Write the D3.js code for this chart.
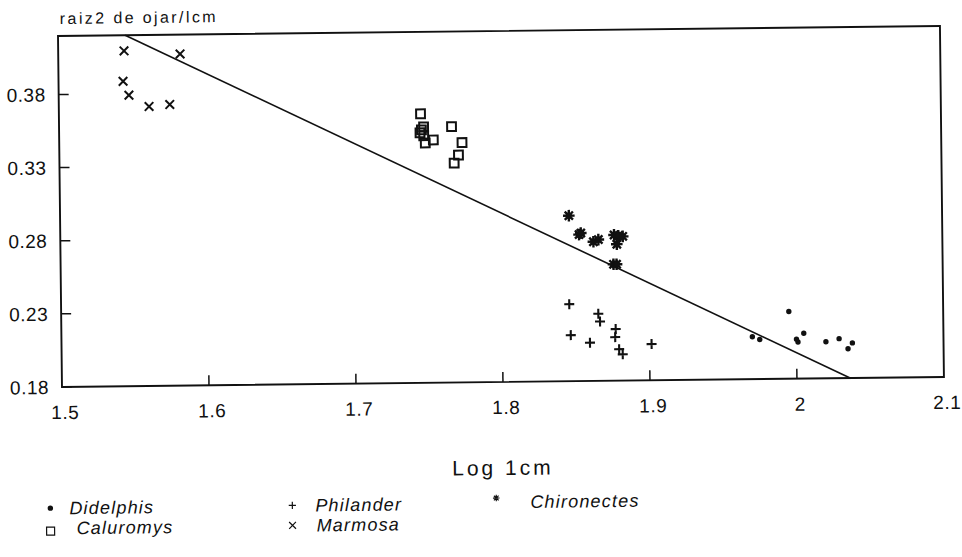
<!DOCTYPE html>
<html lang="es">
<head>
<meta charset="utf-8">
<script src="https://d3js.org/d3.v7.min.js"></script>
<title>raiz2 de ojar / lcm</title>
<style>
  body { margin: 0; background: #fff; }
  text { font-family: "Liberation Sans", Arial, sans-serif; fill: #111; }
</style>
</head>
<body>
<script>
// values
var didelphisX = [1.970, 1.975, 1.995, 2.000, 2.001, 2.005, 2.020, 2.029, 2.035, 2.038];
var didelphisY = [0.209, 0.207, 0.226, 0.207, 0.205, 0.211, 0.205, 0.207, 0.200, 0.204];

var caluromysX = [1.746, 1.748, 1.7455, 1.748, 1.749, 1.7545, 1.767, 1.774, 1.7715, 1.7685, 1.7465];
var caluromysY = [0.364, 0.355, 0.351, 0.349, 0.344, 0.346, 0.355, 0.344, 0.3355, 0.330, 0.353];

var philanderX = [1.8457, 1.8654, 1.8665, 1.8465, 1.8595, 1.8771, 1.8767, 1.8793, 1.8817, 1.9014];
var philanderY = [0.2327, 0.2259, 0.2206, 0.2115, 0.2062, 0.2153, 0.2098, 0.2015, 0.1980, 0.2048];

var marmosaX = [1.5448, 1.5829, 1.5439, 1.5478, 1.5614, 1.5755];
var marmosaY = [0.4093, 0.4068, 0.3885, 0.3790, 0.3711, 0.3723];

var chironectesX = [1.8461, 1.8529, 1.8541, 1.8626, 1.8660, 1.8767, 1.8826, 1.8785, 1.8761, 1.8782, 1.8796];
var chironectesY = [0.2932, 0.2802, 0.2812, 0.2752, 0.2766, 0.2797, 0.2786, 0.2733, 0.2596, 0.2596, 0.2791];

// fitted line  y = a + b x
var lineIntercept = 1.1763;
var lineSlope = -0.4893;

var xTicks = [1.5, 1.6, 1.7, 1.8, 1.9, 2.0, 2.1];
var yTicks = [0.18, 0.23, 0.28, 0.33, 0.38];
var xDomain = [1.5, 2.1];
var yDomain = [0.18, 0.42];

var speciesNames = ["Didelphis", "Caluromys", "Philander", "Marmosa", "Chironectes"];
var speciesKinds = ["dot", "square", "plus", "times", "asterisk"];

var yTitle = "raiz2 de ojar/lcm";
var xTitle = "Log 1cm";

var width = 962, height = 557;
var plotLeft = 60, plotRight = 942, plotTop = 31, plotBottom = 382;

var svg = d3.select("body").append("svg")
    .attr("width", width)
    .attr("height", height);

// the scan is a little tilted
var g = svg.append("g").attr("transform", "rotate(-0.65 500 210)");

var xScale = d3.scaleLinear().domain(xDomain).range([plotLeft, plotRight]);
var yScale = d3.scaleLinear().domain(yDomain).range([plotBottom, plotTop]);

// draws one marker of a given kind into a selection
function drawMarker(sel, kind, s, sw) {
  if (kind == "dot") {
    sel.append("circle").attr("r", s).attr("fill", "#111");
  } else if (kind == "square") {
    sel.append("rect").attr("x", -s).attr("y", -s).attr("width", 2 * s).attr("height", 2 * s)
      .attr("fill", "none").attr("stroke", "#111").attr("stroke-width", sw);
  } else if (kind == "plus") {
    sel.append("path").attr("d", "M" + (-s) + ",0H" + s + "M0," + (-s) + "V" + s)
      .attr("stroke", "#111").attr("stroke-width", sw);
  } else if (kind == "times") {
    sel.append("path").attr("d", "M" + (-s) + "," + (-s) + "L" + s + "," + s + "M" + (-s) + "," + s + "L" + s + "," + (-s))
      .attr("stroke", "#111").attr("stroke-width", sw);
  } else if (kind == "asterisk") {
    var d = "";
    [0, 45, 90, 135].forEach(function (a) {
      var r = a * Math.PI / 180;
      var dx = s * Math.cos(r), dy = s * Math.sin(r);
      d += "M" + (-dx) + "," + (-dy) + "L" + dx + "," + dy;
    });
    sel.append("path").attr("d", d).attr("stroke", "#111").attr("stroke-width", sw);
    if (sw > 1.5) sel.append("circle").attr("r", s * 0.5).attr("fill", "#111");
  }
}

// frame
g.append("rect")
  .attr("x", plotLeft).attr("y", plotTop)
  .attr("width", plotRight - plotLeft).attr("height", plotBottom - plotTop)
  .attr("fill", "none").attr("stroke", "#111").attr("stroke-width", 1.9);

// y ticks, inward
g.selectAll(".ytick").data(yTicks).enter().append("line")
  .attr("x1", plotLeft).attr("x2", plotLeft + 10)
  .attr("y1", function (d) { return yScale(d); })
  .attr("y2", function (d) { return yScale(d); })
  .attr("stroke", "#111").attr("stroke-width", 1.5);

g.selectAll(".ylab").data(yTicks).enter().append("text")
  .attr("x", plotLeft - 13)
  .attr("y", function (d) { return yScale(d); })
  .attr("dy", "0.36em")
  .attr("text-anchor", "end")
  .style("font-size", "19px")
  .style("letter-spacing", "0.5px")
  .text(function (d) { return d3.format(".2f")(d); });

// x ticks, inward
g.selectAll(".xtick").data(xTicks.slice(1, -1)).enter().append("line")
  .attr("x1", function (d) { return xScale(d); })
  .attr("x2", function (d) { return xScale(d); })
  .attr("y1", plotBottom).attr("y2", plotBottom - 10)
  .attr("stroke", "#111").attr("stroke-width", 1.5);

g.selectAll(".xlab").data(xTicks).enter().append("text")
  .attr("x", function (d) { return xScale(d) + 3; })
  .attr("y", plotBottom + 32)
  .attr("text-anchor", "middle")
  .style("font-size", "19px")
  .style("letter-spacing", "0.5px")
  .text(function (d) { return String(+d.toFixed(1)); });

// titles
g.append("text")
  .attr("x", 62).attr("y", 19)
  .style("font-size", "16px")
  .style("letter-spacing", "2.4px")
  .text(yTitle);

g.append("text")
  .attr("x", 500).attr("y", 475)
  .attr("text-anchor", "middle")
  .style("font-size", "21px")
  .style("letter-spacing", "3px")
  .text(xTitle);

// regression line, cut at the frame
var xAtTop = (yDomain[1] - lineIntercept) / lineSlope;
var xAtBottom = (yDomain[0] - lineIntercept) / lineSlope;
g.append("line")
  .attr("x1", xScale(xAtTop)).attr("y1", yScale(yDomain[1]))
  .attr("x2", xScale(xAtBottom)).attr("y2", yScale(yDomain[0]))
  .attr("stroke", "#111").attr("stroke-width", 1.6);

// points
var seriesX = [didelphisX, caluromysX, philanderX, marmosaX, chironectesX];
var seriesY = [didelphisY, caluromysY, philanderY, marmosaY, chironectesY];
var markerSize = [2.7, 4.4, 5, 4.3, 5.8];
var markerStroke = [0, 2, 2.1, 2, 2.4];

speciesKinds.forEach(function (kind, i) {
  var pts = seriesX[i].map(function (x, j) { return { x: x, y: seriesY[i][j] }; });
  g.append("g").selectAll("g").data(pts).enter().append("g")
    .attr("transform", function (d) { return "translate(" + xScale(d.x) + "," + yScale(d.y) + ")"; })
    .each(function () { drawMarker(d3.select(this), kind, markerSize[i], markerStroke[i]); });
});

// legend
var legendX = [47, 47, 289, 289, 493];
var legendY = [503, 523, 503, 523, 502];
var legendGap = [19, 26, 23, 24, 34];
var legendSize = [2.7, 4, 3.6, 3.4, 3.3];

var lg = g.selectAll(".leg").data(speciesNames).enter().append("g")
  .attr("transform", function (d, i) { return "translate(" + legendX[i] + "," + legendY[i] + ")"; });

lg.each(function (d, i) {
  var m = d3.select(this).append("g");
  if (speciesKinds[i] == "asterisk") m.attr("transform", "translate(0,-4)");
  if (speciesKinds[i] == "square") m.attr("transform", "translate(0,3)");
  drawMarker(m, speciesKinds[i], legendSize[i], 1.2);
});

lg.append("text")
  .attr("x", function (d, i) { return legendGap[i]; })
  .attr("dy", "0.35em")
  .style("font-size", "18px")
  .style("font-style", "italic")
  .style("letter-spacing", "1.2px")
  .text(function (d) { return d; });
</script>
</body>
</html>
